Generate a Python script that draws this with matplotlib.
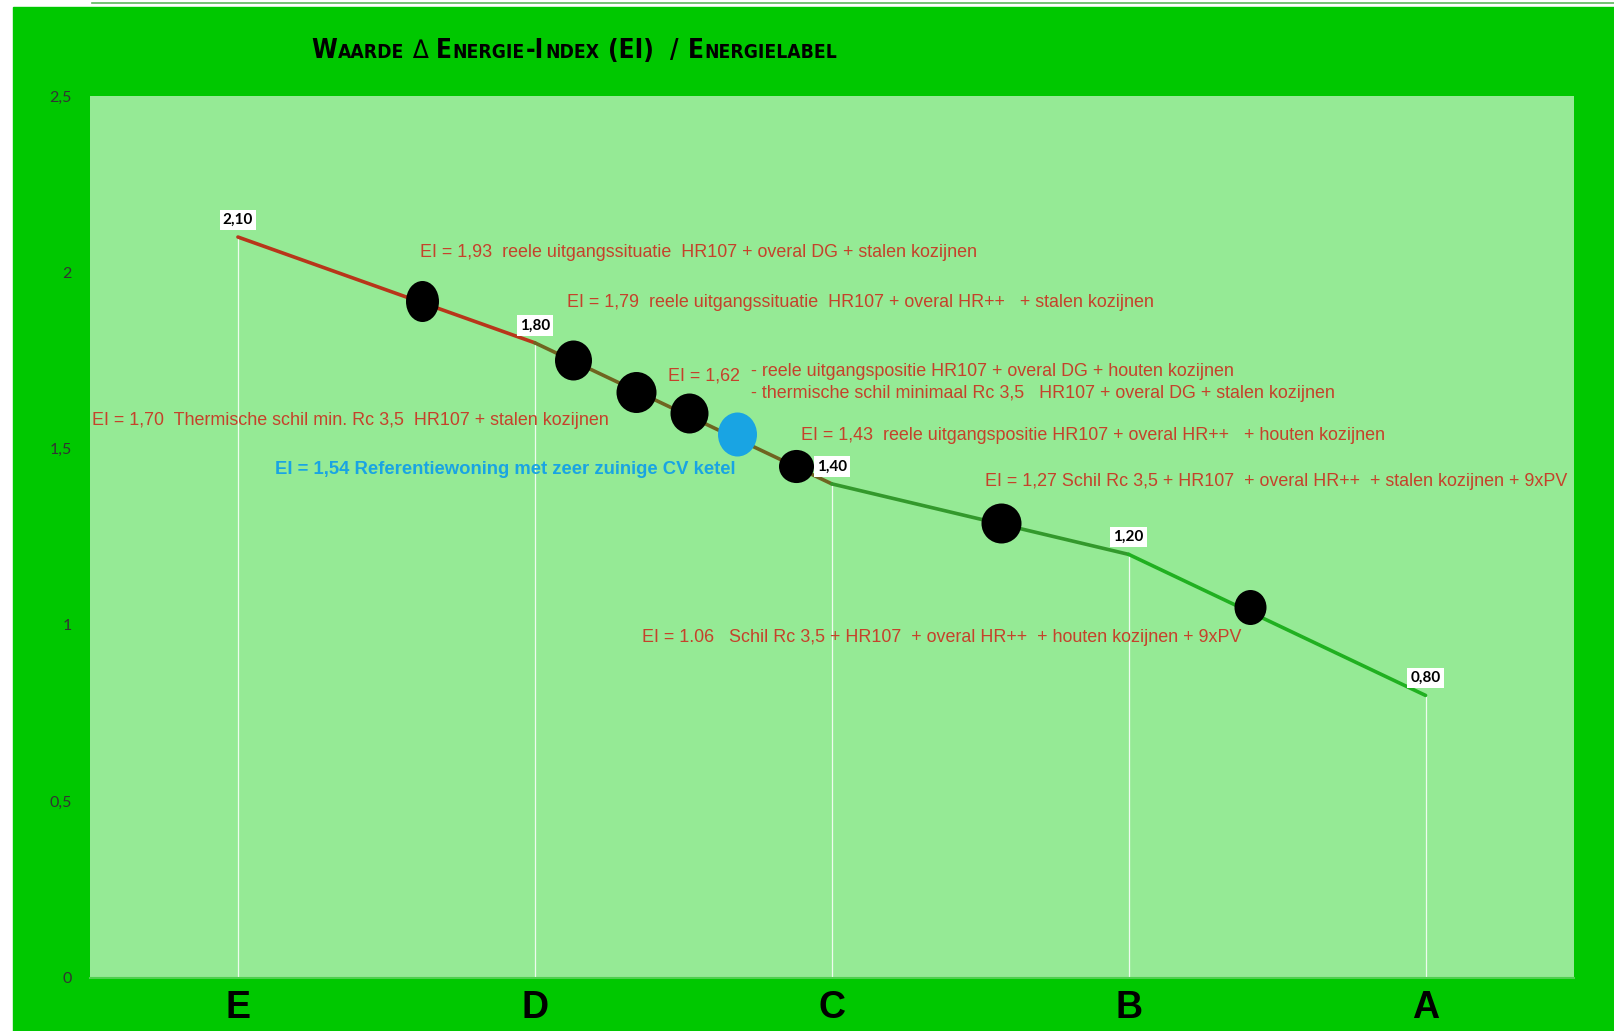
import matplotlib
matplotlib.use("Agg")
import matplotlib.pyplot as plt
from matplotlib.patches import Rectangle
from matplotlib.lines import Line2D
from matplotlib.path import Path

# energielabels en energie-index per label
categories = ["E", "D", "C", "B", "A"]
ei_values = [2.10, 1.80, 1.40, 1.20, 0.80]
ei_labels = ["2,10", "1,80", "1,40", "1,20", "0,80"]

# y-as
y_ticks = [0, 0.5, 1, 1.5, 2, 2.5]
y_tick_labels = ["0", "0,5", "1", "1,5", "2", "2,5"]

# situaties (positie op de label-as, EI-waarde)
situ_x = [0.62, 1.13, 1.34, 1.52, 1.68, 1.88, 2.57, 3.41]
situ_ei = [1.92, 1.75, 1.66, 1.60, 1.54, 1.45, 1.29, 1.05]

situ_texts = [
    "EI = 1,93  reele uitgangssituatie  HR107 + overal DG + stalen kozijnen",
    "EI = 1,79  reele uitgangssituatie  HR107 + overal HR++   + stalen kozijnen",
    "EI = 1,62",
    "- reele uitgangspositie HR107 + overal DG + houten kozijnen",
    "- thermische schil minimaal Rc 3,5   HR107 + overal DG + stalen kozijnen",
    "EI = 1,70  Thermische schil min. Rc 3,5  HR107 + stalen kozijnen",
    "EI = 1,43  reele uitgangspositie HR107 + overal HR++   + houten kozijnen",
    "EI = 1,27 Schil Rc 3,5 + HR107  + overal HR++  + stalen kozijnen + 9xPV",
    "EI = 1.06   Schil Rc 3,5 + HR107  + overal HR++  + houten kozijnen + 9xPV",
]
ref_text = "EI = 1,54 Referentiewoning met zeer zuinige CV ketel"

W, H = 1614, 1031
fig = plt.figure(figsize=(W / 100, H / 100), dpi=100, facecolor="white")

# groene achtergrond + dun lijntje bovenaan
fig.patches.append(Rectangle((13 / W, 0), 1, 1 - 7 / H, transform=fig.transFigure,
                             color="#00c800", zorder=-10))
fig.add_artist(Line2D([92 / W, 1], [1 - 3 / H] * 2, transform=fig.transFigure,
                      color="#5cb85c", lw=1.2))

ax = fig.add_axes([89.5 / W, 53.5 / H, 1484.5 / W, 881.5 / H])
ax.set_facecolor("#95ea95")
ax.set_xlim(-0.5, 4.5)
ax.set_ylim(0, 2.5)
for s in ["top", "right", "left"]:
    ax.spines[s].set_visible(False)
ax.spines["bottom"].set_color("#4fcf4f")
ax.spines["bottom"].set_linewidth(1.5)

xs = list(range(len(categories)))

# loodlijnen
ax.vlines(xs, 0, ei_values, color="white", lw=0.9, alpha=0.85, zorder=2)

# lijn, per stuk gekleurd (rood -> groen)
seg_colors = ["#b8361a", "#6f6420", "#33992c", "#20b020"]
for i in range(len(xs) - 1):
    ax.plot(xs[i:i + 2], ei_values[i:i + 2], color=seg_colors[i], lw=2.6,
            solid_capstyle="round", zorder=3)

# waardelabels
for x, v, lbl in zip(xs, ei_values, ei_labels):
    ax.annotate(lbl, (x, v), xytext=(0, 12.5), textcoords="offset points",
                ha="center", va="center", fontsize=11, fontweight="bold", family="Lato",
                bbox=dict(boxstyle="square,pad=0.2", fc="white", ec="none"), zorder=6)

# ellipsvormige markers
circ = Path.unit_circle()
marker_w = [33, 37, 40, 38, 39, 37, 40, 32]
marker_h = [41, 40, 41, 40, 44, 35, 40, 35]
marker_c = ["black"] * 4 + ["#19a4e3"] + ["black"] * 3
for x, v, mw, mh, c in zip(situ_x, situ_ei, marker_w, marker_h, marker_c):
    mk = Path(circ.vertices * [mw / mh, 1], circ.codes)
    ax.plot([x], [v], marker=mk, markersize=mh * 0.72, color=c, mec="none",
            linestyle="none", zorder=4)

# toelichtingen
red = "#c5422b"
text_pos = [(0.612, 2.057), (1.108, 1.914), (1.447, 1.707), (1.728, 1.718),
            (1.728, 1.657), (-0.49, 1.581), (1.898, 1.537), (2.515, 1.406),
            (1.361, 0.963)]
for (tx, ty), t in zip(text_pos, situ_texts):
    ax.text(tx, ty, t, color=red, fontsize=12.9, family="Liberation Sans",
            ha="left", va="center", zorder=5)
ax.text(0.124, 1.441, ref_text, color="#19a4e3", fontsize=13.3, fontweight="bold",
        family="Liberation Sans", ha="left", va="center", zorder=5)

# assen
ax.set_yticks(y_ticks, y_tick_labels)
ax.tick_params(axis="y", length=0, pad=13, labelsize=11.5, labelcolor="#333333")
for lbl in ax.get_yticklabels():
    lbl.set_family("Lato")
ax.set_xticks(xs, categories)
ax.tick_params(axis="x", length=0, pad=9, labelsize=27)
for lbl in ax.get_xticklabels():
    lbl.set_fontweight("bold")
    lbl.set_family("Liberation Sans")

# titel in kleinkapitaal
big, small = 18.7, 13.8
parts = [("W", big), ("AARDE", small), (None, 7), ("\u2206", big), (None, 7),
         ("E", big), ("NERGIE", small), ("-I", big), ("NDEX", small), (None, 8),
         ("(EI)", big), (None, 15), ("/", big), (None, 8), ("E", big), ("NERGIELABEL", small)]
renderer = fig.canvas.get_renderer()
tx = 311 / W
ty = 1 - 57.5 / H
for s, size in parts:
    if s is None:
        tx += size / W
        continue
    t = fig.text(tx, ty, s, fontsize=size, fontweight="bold" if s != "\u2206" else "normal",
                 family="DejaVu Sans", fontstretch="condensed", va="baseline", ha="left")
    tx += t.get_window_extent(renderer).width / W + 1 / W

fig.savefig("out.png", dpi=100, facecolor=fig.get_facecolor())
